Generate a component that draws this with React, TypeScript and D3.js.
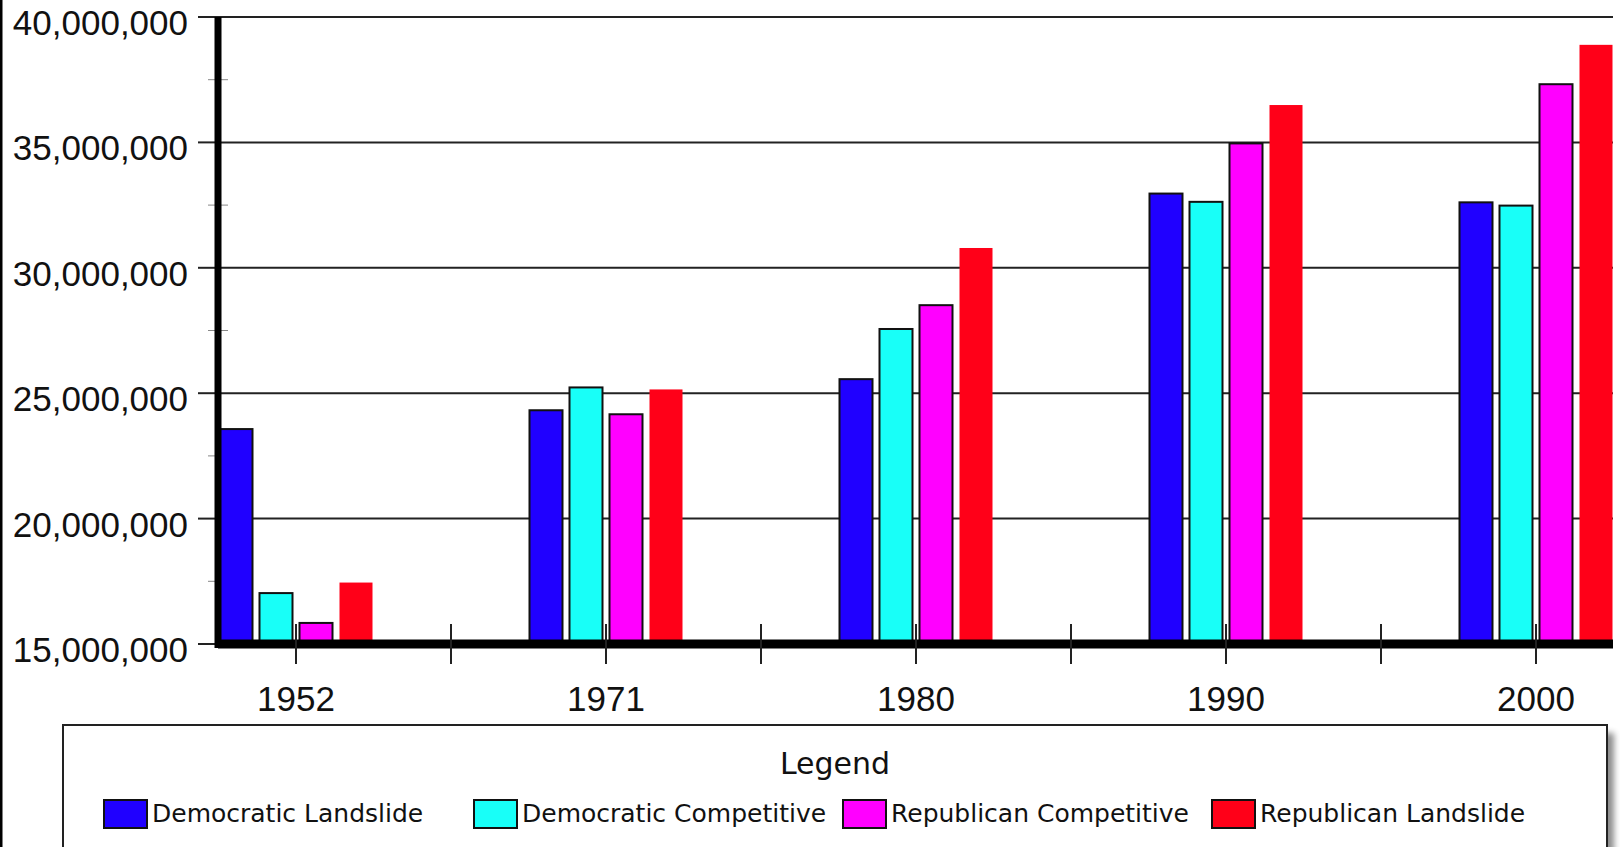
import { useEffect, useRef } from "react";
import * as d3 from "d3";

const years = ["1952", "1971", "1980", "1990", "2000"];
const series = [
  "Democratic Landslide",
  "Democratic Competitive",
  "Republican Competitive",
  "Republican Landslide",
];
const colors = ["#2000ff", "#18fff8", "#ff00ff", "#ff0018"];
const demLandslide = [23570000, 24320000, 25560000, 32960000, 32610000];
const demCompetitive = [17030000, 25230000, 27560000, 32630000, 32480000];
const repCompetitive = [15840000, 24160000, 28510000, 34960000, 37320000];
const repLandslide = [17450000, 25150000, 30790000, 36490000, 38890000];
const yTicks = [15000000, 20000000, 25000000, 30000000, 35000000, 40000000];
const yMinor = [17500000, 22500000, 27500000, 32500000, 37500000];

const values = [demLandslide, demCompetitive, repCompetitive, repLandslide];

export default function App() {
  const ref = useRef<SVGSVGElement>(null);

  useEffect(() => {
    if (!ref.current) return;
    const svg = d3.select(ref.current);
    svg.selectAll("*").remove();

    const axisX = 218, right = 1613;
    const y = d3.scaleLinear().domain([15000000, 40000000]).range([644, 17]);
    const x0 = d3.scaleBand().domain(years).range([141, 1691]).padding(0);
    const x1 = d3.scaleBand().domain(series).range([0, 153]).paddingInner(0.175).paddingOuter(0);
    const groupOff = x0.bandwidth() / 2 - 76.5;
    const fmt = d3.format(",");

    // left page border
    svg.append("line").attr("x1", 1).attr("x2", 1).attr("y1", 0).attr("y2", 847)
      .attr("stroke", "#000").attr("stroke-width", 3);

    // gridlines
    svg.append("g").selectAll("line").data(yTicks.filter(t => t > 15000000)).join("line")
      .attr("x1", axisX).attr("x2", right)
      .attr("y1", d => y(d)).attr("y2", d => y(d))
      .attr("stroke", "#222").attr("stroke-width", 2);

    // y major ticks + labels
    svg.append("g").selectAll("line").data(yTicks).join("line")
      .attr("x1", 198).attr("x2", axisX)
      .attr("y1", d => y(d)).attr("y2", d => y(d))
      .attr("stroke", "#222").attr("stroke-width", 2);
    svg.append("g").selectAll("line").data(yMinor).join("line")
      .attr("x1", 208).attr("x2", 228)
      .attr("y1", d => y(d)).attr("y2", d => y(d))
      .attr("stroke", "#888").attr("stroke-width", 1);
    svg.append("g").selectAll("text").data(yTicks).join("text")
      .attr("x", 188).attr("y", d => y(d) + 18)
      .attr("text-anchor", "end")
      .style("font-family", "'Liberation Sans', Arial, sans-serif")
      .style("font-size", "35px").style("fill", "#111")
      .text(d => fmt(d));

    // bars
    const g = svg.append("g");
    years.forEach((yr, i) => {
      series.forEach((s, j) => {
        const v = values[j][i];
        const bx = (x0(yr) ?? 0) + groupOff + (x1(s) ?? 0);
        g.append("rect")
          .attr("x", bx).attr("y", y(v))
          .attr("width", x1.bandwidth()).attr("height", y(15000000) - y(v))
          .attr("fill", colors[j])
          .attr("stroke", j === 3 ? "none" : "#111")
          .attr("stroke-width", 2);
      });
    });

    // y axis line
    svg.append("line").attr("x1", axisX).attr("x2", axisX).attr("y1", 17).attr("y2", 648)
      .attr("stroke", "#000").attr("stroke-width", 7);

    // x axis line
    svg.append("line").attr("x1", axisX).attr("x2", right).attr("y1", 644).attr("y2", 644)
      .attr("stroke", "#000").attr("stroke-width", 9);

    // x ticks at centers and band boundaries
    const centers = years.map(yr => (x0(yr) ?? 0) + x0.bandwidth() / 2);
    const bounds = years.slice(1).map(yr => x0(yr) ?? 0);
    svg.append("g").selectAll("line").data([...centers, ...bounds]).join("line")
      .attr("x1", d => d).attr("x2", d => d).attr("y1", 624).attr("y2", 664)
      .attr("stroke", "#222").attr("stroke-width", 2);

    svg.append("g").selectAll("text").data(years).join("text")
      .attr("x", d => (x0(d) ?? 0) + x0.bandwidth() / 2).attr("y", 711)
      .attr("text-anchor", "middle")
      .style("font-family", "'Liberation Sans', Arial, sans-serif")
      .style("font-size", "35px").style("fill", "#111")
      .text(d => d);

    // legend
    const defs = svg.append("defs");
    defs.append("filter").attr("id", "shadow").attr("x", "-10%").attr("y", "-10%")
      .attr("width", "120%").attr("height", "130%")
      .append("feGaussianBlur").attr("stdDeviation", 3);
    svg.append("rect").attr("x", 70).attr("y", 733).attr("width", 1544).attr("height", 200)
      .attr("fill", "#000").attr("opacity", 0.45).attr("filter", "url(#shadow)");
    svg.append("rect").attr("x", 63).attr("y", 725).attr("width", 1544).attr("height", 200)
      .attr("fill", "#fff").attr("stroke", "#222").attr("stroke-width", 2);
    svg.append("text").attr("x", 835).attr("y", 774).attr("text-anchor", "middle")
      .style("font-family", "'DejaVu Sans', sans-serif").style("font-size", "30px")
      .style("fill", "#111").text("Legend");

    const legendX = [104, 474, 843, 1212];
    const lg = svg.append("g").selectAll("g").data(series).join("g")
      .attr("transform", (_, i) => `translate(${legendX[i]},800)`);
    lg.append("rect").attr("width", 43).attr("height", 28)
      .attr("fill", (_, i) => colors[i]).attr("stroke", "#111").attr("stroke-width", 2);
    lg.append("text").attr("x", 48).attr("y", 22)
      .style("font-family", "'DejaVu Sans', sans-serif").style("font-size", "25px")
      .style("fill", "#111").text(d => d);
  }, []);

  return (
    <div style={{ position: "absolute", left: 0, top: 0, width: 1620, height: 847,
      overflow: "hidden", background: "#fff" }}>
      <svg ref={ref} width={1620} height={847} style={{ display: "block" }} />
    </div>
  );
}
